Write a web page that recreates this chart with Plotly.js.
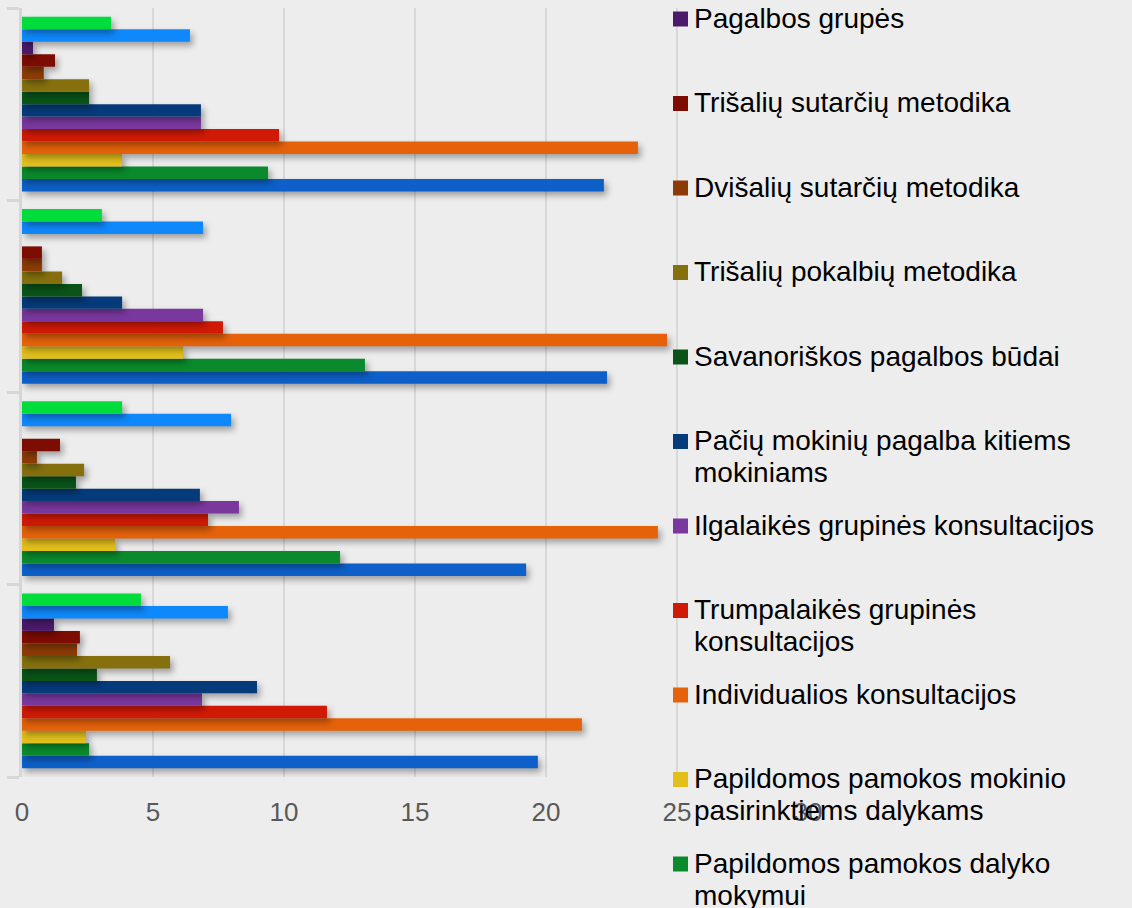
<!DOCTYPE html>
<html><head><meta charset="utf-8">
<script src="https://cdn.plot.ly/plotly-3.0.1.min.js"></script>
<style>
html,body{margin:0;padding:0;background:#ededed;}
#chart{width:1132px;height:908px;}
.barlayer .point path{filter:drop-shadow(3px 4px 3px rgba(0,0,0,0.33));}
</style></head><body><div id="chart"></div>
<script>
// categories, bottom group first
const categories = ['Grupė 4', 'Grupė 3', 'Grupė 2', 'Grupė 1'];

// series (trace order = bottom bar of each group first)
const seriesNames = [
  'Kita pagalba',
  'Papildomos pamokos dalyko<br>mokymui',
  'Papildomos pamokos mokinio<br>pasirinktiems dalykams',
  'Individualios konsultacijos',
  'Trumpalaikės grupinės<br>konsultacijos',
  'Ilgalaikės grupinės konsultacijos',
  'Pačių mokinių pagalba kitiems<br>mokiniams',
  'Savanoriškos pagalbos būdai',
  'Trišalių pokalbių metodika',
  'Dvišalių sutarčių metodika',
  'Trišalių sutarčių metodika',
  'Pagalbos grupės',
  'Kiti pagalbos būdai',
  'Kitos pagalbos formos'
];
const seriesColors = [
  '#0d60c9', '#0a8a2c', '#e3bf1b', '#e5620a', '#d11a06', '#7a389f', '#053b7a',
  '#0a5418', '#86700e', '#8c3b06', '#7d0c02', '#4b1a6b', '#0f88fb', '#00dc3c'
];

const darkBlue   = [19.69, 19.24, 22.33, 22.21];
const green      = [2.56, 12.14, 13.09, 9.39];
const yellow     = [2.44, 3.55, 6.15, 3.82];
const orange     = [21.37, 24.27, 24.62, 23.51];
const red        = [11.64, 7.10, 7.67, 9.81];
const purple     = [6.87, 8.28, 6.91, 6.83];
const navy       = [8.97, 6.79, 3.82, 6.83];
const darkGreen  = [2.86, 2.06, 2.29, 2.56];
const olive      = [5.65, 2.37, 1.53, 2.56];
const brown      = [2.10, 0.57, 0.76, 0.83];
const darkRed    = [2.21, 1.45, 0.76, 1.26];
const darkPurple = [1.22, 0, 0, 0.42];
const lightBlue  = [7.86, 7.98, 6.91, 6.41];
const lightGreen = [4.54, 3.82, 3.05, 3.40];

const seriesValues = [darkBlue, green, yellow, orange, red, purple, navy,
  darkGreen, olive, brown, darkRed, darkPurple, lightBlue, lightGreen];

const xTicks = [0, 5, 10, 15, 20, 25, 30];

const W = 1132, H = 908;
const M = {l: 22, r: 324, t: 8, b: 131};
const pw = W - M.l - M.r, ph = H - M.t - M.b;
const px2x = p => (p - M.l) / pw;
const px2y = p => (H - M.b - p) / ph;

const font = 'Liberation Sans, Arial, sans-serif';

const traces = seriesValues.map((vals, i) => ({
  type: 'bar', orientation: 'h',
  y: categories, x: vals,
  name: seriesNames[i].replace('<br>', ' '),
  marker: {color: seriesColors[i]},
  hoverinfo: 'x+name'
}));

// custom legend (top-to-bottom = reversed trace order), as in the reference
const annotations = [], shapes = [];
const n = seriesNames.length;
for (let j = 0; j < n; j++) {
  const i = n - 1 - j;
  const yc = 18 + 84.5 * (j - 2);
  const lines = seriesNames[i].split('<br>');
  let any = false;
  lines.forEach((ln, L) => {
    const y = yc + 32 * L;
    if (y < -10 || y > H + 12) return;
    any = true;
    annotations.push({
      xref: 'paper', yref: 'paper', x: px2x(692), y: px2y(y),
      xanchor: 'left', yanchor: 'middle', showarrow: false,
      text: ln, font: {family: font, size: 28, color: '#000'}
    });
  });
  if (any && yc > -10 && yc < H) {
    shapes.push({
      type: 'rect', xref: 'paper', yref: 'paper',
      x0: px2x(673), x1: px2x(688), y0: px2y(yc + 8.5), y1: px2y(yc - 6.5),
      fillcolor: seriesColors[i], line: {width: 0}
    });
  }
}

const layout = {
  width: W, height: H,
  margin: M,
  paper_bgcolor: '#ededed', plot_bgcolor: '#ededed',
  barmode: 'group', bargap: 0.09, bargroupgap: 0,
  showlegend: false,
  xaxis: {
    range: [0, 30], tickvals: xTicks, ticktext: xTicks.map(String),
    showgrid: true, gridcolor: '#d8d8d8', gridwidth: 2,
    zeroline: false, showline: false, ticks: '',
    ticklabelstandoff: 17,
    tickfont: {family: font, size: 26, color: '#595959'}
  },
  yaxis: {
    type: 'category', range: [-0.5, 3.5],
    showticklabels: false, showgrid: false, zeroline: false,
    showline: true, linecolor: '#d6d6d6', linewidth: 3,
    ticks: 'outside', tickson: 'boundaries', ticklen: 12, tickwidth: 3, tickcolor: '#d6d6d6'
  },
  annotations: annotations,
  shapes: shapes
};

Plotly.newPlot('chart', traces, layout, {displayModeBar: false, staticPlot: true});
</script></body></html>
